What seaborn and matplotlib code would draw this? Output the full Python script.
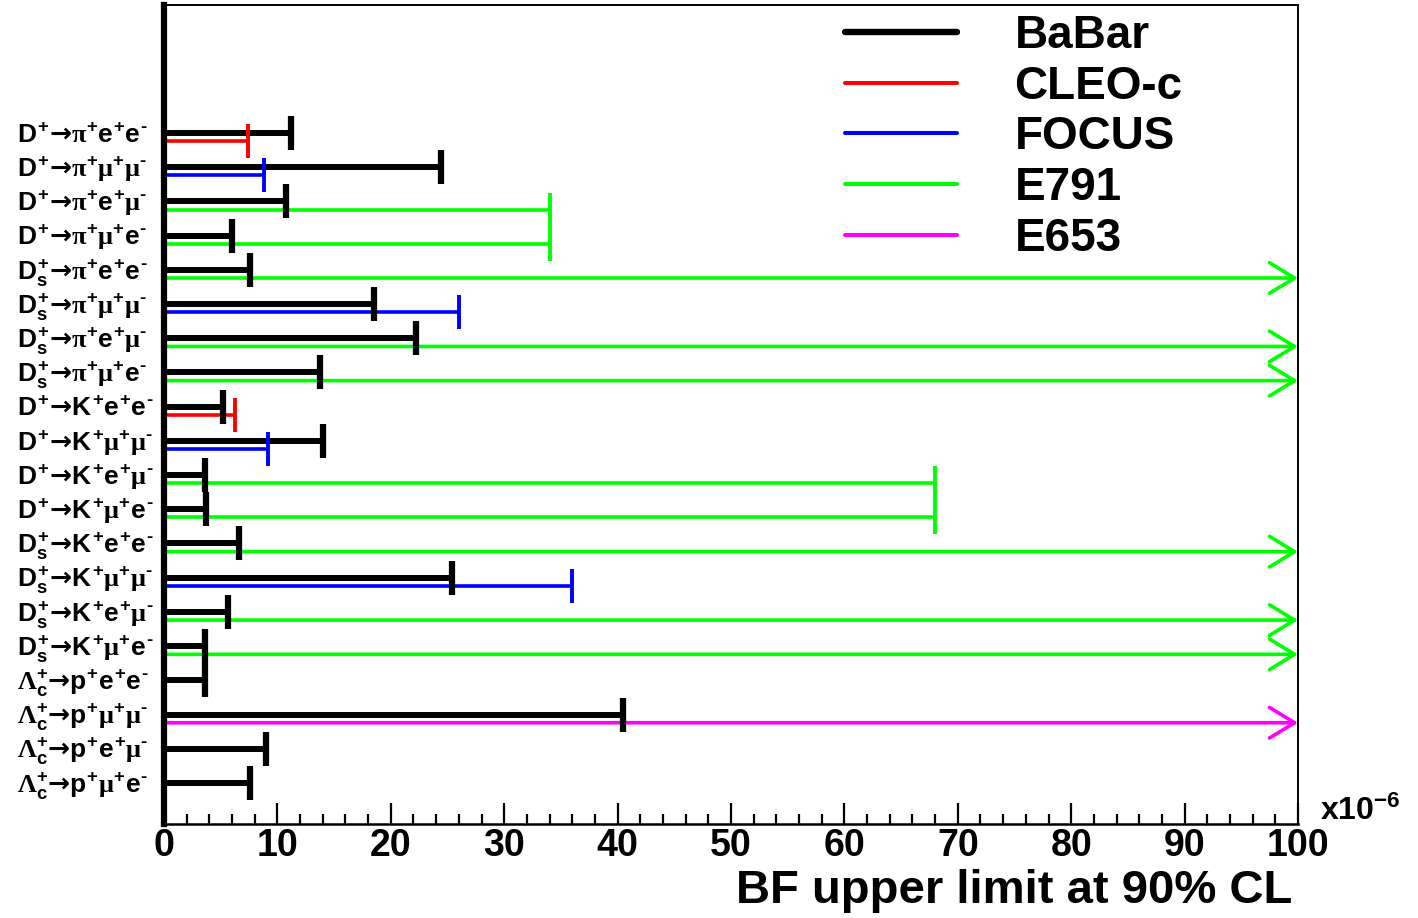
import numpy as np
import pandas as pd
import matplotlib
matplotlib.use("Agg")
import matplotlib.pyplot as plt
import matplotlib.transforms as mtransforms
from matplotlib.lines import Line2D
from matplotlib.ticker import MultipleLocator
import seaborn as sns

# === Данные ===
# \mathcal{→} - стрелка (DejaVu Sans), ‐ - короткий дефис в верхнем индексе
labels = [
    r'$D^{+}\mathcal{→}\mathsf{π}^{+}e^{+}e^{‐}$',
    r'$D^{+}\mathcal{→}\mathsf{π}^{+}\mathsf{μ}^{+}\mathsf{μ}^{‐}$',
    r'$D^{+}\mathcal{→}\mathsf{π}^{+}e^{+}\mathsf{μ}^{‐}$',
    r'$D^{+}\mathcal{→}\mathsf{π}^{+}\mathsf{μ}^{+}e^{‐}$',
    r'$D_{s}^{+}\mathcal{→}\mathsf{π}^{+}e^{+}e^{‐}$',
    r'$D_{s}^{+}\mathcal{→}\mathsf{π}^{+}\mathsf{μ}^{+}\mathsf{μ}^{‐}$',
    r'$D_{s}^{+}\mathcal{→}\mathsf{π}^{+}e^{+}\mathsf{μ}^{‐}$',
    r'$D_{s}^{+}\mathcal{→}\mathsf{π}^{+}\mathsf{μ}^{+}e^{‐}$',
    r'$D^{+}\mathcal{→}K^{+}e^{+}e^{‐}$',
    r'$D^{+}\mathcal{→}K^{+}\mathsf{μ}^{+}\mathsf{μ}^{‐}$',
    r'$D^{+}\mathcal{→}K^{+}e^{+}\mathsf{μ}^{‐}$',
    r'$D^{+}\mathcal{→}K^{+}\mathsf{μ}^{+}e^{‐}$',
    r'$D_{s}^{+}\mathcal{→}K^{+}e^{+}e^{‐}$',
    r'$D_{s}^{+}\mathcal{→}K^{+}\mathsf{μ}^{+}\mathsf{μ}^{‐}$',
    r'$D_{s}^{+}\mathcal{→}K^{+}e^{+}\mathsf{μ}^{‐}$',
    r'$D_{s}^{+}\mathcal{→}K^{+}\mathsf{μ}^{+}e^{‐}$',
    r'$\mathsf{Λ}_{c}^{+}\mathcal{→}p^{+}e^{+}e^{‐}$',
    r'$\mathsf{Λ}_{c}^{+}\mathcal{→}p^{+}\mathsf{μ}^{+}\mathsf{μ}^{‐}$',
    r'$\mathsf{Λ}_{c}^{+}\mathcal{→}p^{+}e^{+}\mathsf{μ}^{‐}$',
    r'$\mathsf{Λ}_{c}^{+}\mathcal{→}p^{+}\mathsf{μ}^{+}e^{‐}$',
]

nan = np.nan
inf = np.inf  # предел за пределами шкалы (стрелка)

babar = [11.2, 24.4, 10.8, 6.0, 7.6, 18.5, 22.2, 13.8, 5.2, 14.0,
         3.6, 3.7, 6.6, 25.4, 5.6, 3.6, 3.6, 40.5, 9.0, 7.6]
cleoc = [7.4, nan, nan, nan, nan, nan, nan, nan, 6.3, nan,
         nan, nan, nan, nan, nan, nan, nan, nan, nan, nan]
focus = [nan, 8.8, nan, nan, nan, 26.0, nan, nan, nan, 9.2,
         nan, nan, nan, 36.0, nan, nan, nan, nan, nan, nan]
e791 = [nan, nan, 34.0, 34.0, inf, nan, inf, inf, nan, nan,
        68.0, 68.0, inf, nan, inf, inf, nan, nan, nan, nan]
e653 = [nan, nan, nan, nan, nan, nan, nan, nan, nan, nan,
        nan, nan, nan, nan, nan, nan, nan, inf, nan, nan]

experiments = ['BaBar', 'CLEO-c', 'FOCUS', 'E791', 'E653']
colors = {'BaBar': '#000000', 'CLEO-c': '#ff0000', 'FOCUS': '#0000ff',
          'E791': '#00ff00', 'E653': '#ff00ff'}
widths = {'BaBar': 4.3, 'CLEO-c': 2.6, 'FOCUS': 2.6, 'E791': 2.6, 'E653': 2.6}

# длинная таблица
rows = []
for exp, vals in zip(experiments, [babar, cleoc, focus, e791, e653]):
    for i, v in enumerate(vals):
        if not np.isnan(v):
            rows.append({'exp': exp, 'row': i, 'limit': v})
df = pd.DataFrame(rows)
df['ypos'] = df['row'] + np.where(df['exp'] == 'BaBar', 0.0, 0.24)
xmax = 100

# === Оформление ===
sns.set_style("white")
plt.rcParams['font.family'] = ['Liberation Sans', 'DejaVu Sans']
plt.rcParams['font.weight'] = 'bold'
plt.rcParams['text.color'] = 'black'
plt.rcParams['axes.labelcolor'] = 'black'
plt.rcParams['xtick.color'] = 'black'
plt.rcParams['ytick.color'] = 'black'
plt.rcParams['mathtext.fontset'] = 'custom'
plt.rcParams['mathtext.rm'] = 'Liberation Sans:bold'
plt.rcParams['mathtext.it'] = 'Liberation Sans:bold'
plt.rcParams['mathtext.bf'] = 'Liberation Sans:bold'
plt.rcParams['mathtext.sf'] = 'Liberation Serif'
plt.rcParams['mathtext.cal'] = 'DejaVu Sans'

fig = plt.figure(figsize=(14.18, 9.18), dpi=100)
ax = fig.add_axes([164 / 1418, 1 - 824 / 918, 1134 / 1418, 819 / 918])

n = len(labels)
ax.set_xlim(0, xmax)
ax.set_ylim(n - 1 + 1.2, -3.74)

# горизонтальные отрезки
for _, r in df.iterrows():
    c, lw = colors[r['exp']], widths[r['exp']]
    if np.isinf(r['limit']):
        ax.annotate('', xy=(xmax, r['ypos']), xytext=(0, r['ypos']),
                    arrowprops=dict(arrowstyle='->,head_length=18,head_width=11',
                                    mutation_scale=1, lw=lw, color=c,
                                    shrinkA=0, shrinkB=0),
                    zorder=2)
    else:
        ax.hlines(r['ypos'], 0, r['limit'], color=c, lw=lw,
                  zorder=3 if r['exp'] == 'BaBar' else 2)

# концевые засечки
caps = df[np.isfinite(df['limit'])]
for exp in experiments:
    sub = caps[caps['exp'] == exp]
    if sub.empty:
        continue
    sns.scatterplot(data=sub, x='limit', y='ypos', marker='|', s=600,
                    color=colors[exp], linewidth=widths[exp] + 0.2,
                    legend=False, ax=ax, zorder=4 if exp == 'BaBar' else 3)

# подписи распадов
trans = mtransforms.blended_transform_factory(fig.transFigure, ax.transData)
trans = trans + mtransforms.ScaledTranslation(0, -7.0 / 72, fig.dpi_scale_trans)
for i, lab in enumerate(labels):
    ax.text(17 / 1418, i, lab, transform=trans, ha='left', va='baseline',
            fontsize=19, clip_on=False)

# оси
ax.set_yticks([])
ax.set_ylabel('')
ax.xaxis.set_major_locator(MultipleLocator(10))
ax.xaxis.set_minor_locator(MultipleLocator(2))
ax.tick_params(axis='x', which='major', direction='in', length=15, width=1.6,
               labelsize=27, pad=3, top=False, bottom=True, colors='black')
ax.tick_params(axis='x', which='minor', direction='in', length=7, width=1.6,
               top=False, bottom=True, colors='black')
for t in ax.get_xticklabels():
    t.set_fontweight('bold')
ax.set_xlabel('BF upper limit at 90% CL', fontsize=34, fontweight='bold',
              loc='right')
ax.xaxis.set_label_coords(0.995, -0.055)

ax.spines['left'].set_linewidth(4.5)
ax.spines['bottom'].set_linewidth(1.8)
ax.spines['top'].set_linewidth(1.4)
ax.spines['right'].set_linewidth(1.4)
for s in ax.spines.values():
    s.set_color('black')
    s.set_visible(True)

ax.text(1320 / 1418, 1 - 820 / 918, r'$x10^{-6}$', transform=fig.transFigure,
        ha='left', va='baseline', fontsize=23)

# легенда
handles = [Line2D([0], [0], color=colors[e], lw=widths[e] + 0.3) for e in experiments]
ax.legend(handles, experiments, loc='upper left',
          bbox_to_anchor=(845 / 1418, 1 - 14 / 918), bbox_transform=fig.transFigure,
          frameon=False, handlelength=2.45, handletextpad=1.25,
          labelspacing=0.145, borderpad=0, borderaxespad=0,
          prop={'weight': 'bold', 'size': 33})

fig.savefig('out.png', dpi=100)
